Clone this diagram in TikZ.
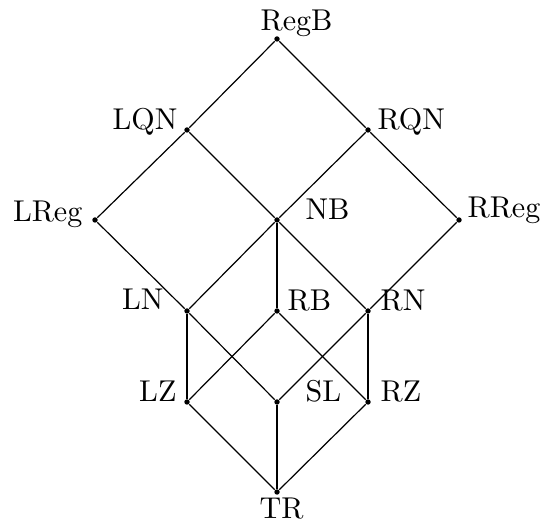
\documentclass[tikz,border=0pt]{standalone}
\begin{document}
\begin{tikzpicture}[x=0.3322pt,y=-0.3322pt,
  dot/.style={circle,fill=black,inner sep=0pt,minimum size=1.8pt},
  lbl/.style={inner sep=0pt},
  edge/.style={line width=0.4pt}]
\useasboundingbox (0,0) rectangle (544,526);
% points
\node[dot] (RegB) at (277,39) {};
\node[dot] (LQN) at (187,130) {};
\node[dot] (RQN) at (368,130) {};
\node[dot] (LReg) at (95,220) {};
\node[dot] (NB) at (277,220) {};
\node[dot] (RReg) at (459,220) {};
\node[dot] (LN) at (187,311) {};
\node[dot] (RB) at (277,311) {};
\node[dot] (RN) at (368,311) {};
\node[dot] (LZ) at (187,402) {};
\node[dot] (SL) at (277,402) {};
\node[dot] (RZ) at (368,402) {};
\node[dot] (TR) at (277,492) {};
% labels
\node[lbl,anchor=base west] (RegBl) at (260,31) {RegB};
\node[lbl,anchor=base east] (LQNl) at (178,130) {LQN};
\node[lbl,anchor=base west] (RQNl) at (377,130) {RQN};
\node[lbl,anchor=base east] (LRegl) at (83,222) {LReg};
\node[lbl,anchor=base west] (NBl) at (305,220) {NB};
\node[lbl,anchor=base west] (RRegl) at (467,218) {RReg};
\node[lbl,anchor=base east] (LNl) at (164,310) {LN};
\node[lbl,anchor=base west] (RBl) at (287,311) {RB};
\node[lbl,anchor=base west] (RNl) at (380,311) {RN};
\node[lbl,anchor=base east] (LZl) at (177,402) {LZ};
\node[lbl,anchor=base west] (SLl) at (305,402) {SL};
\node[lbl,anchor=base west] (RZl) at (380,402) {RZ};
\node[lbl,anchor=base west] (TRl) at (259,519) {TR};
% edges
\draw[edge] (RegB) -- (LQN);
\draw[edge] (RegB) -- (RQN);
\draw[edge] (LQN) -- (LReg);
\draw[edge] (LQN) -- (NB);
\draw[edge] (RQN) -- (NB);
\draw[edge] (RQN) -- (RReg);
\draw[edge] (LReg) -- (LN);
\draw[edge] (RReg) -- (RN);
\draw[edge] (NB) -- (LN);
\draw[edge] (NB) -- (RB);
\draw[edge] (NB) -- (RN);
\draw[edge] (LN) -- (LZ);
\draw[edge] (LN) -- (SL);
\draw[edge] (RN) -- (RZ);
\draw[edge] (RN) -- (SL);
\draw[edge] (RB) -- (LZ);
\draw[edge] (RB) -- (RZ);
\draw[edge] (LZ) -- (TR);
\draw[edge] (SL) -- (TR);
\draw[edge] (RZ) -- (TR);
\end{tikzpicture}
\end{document}
